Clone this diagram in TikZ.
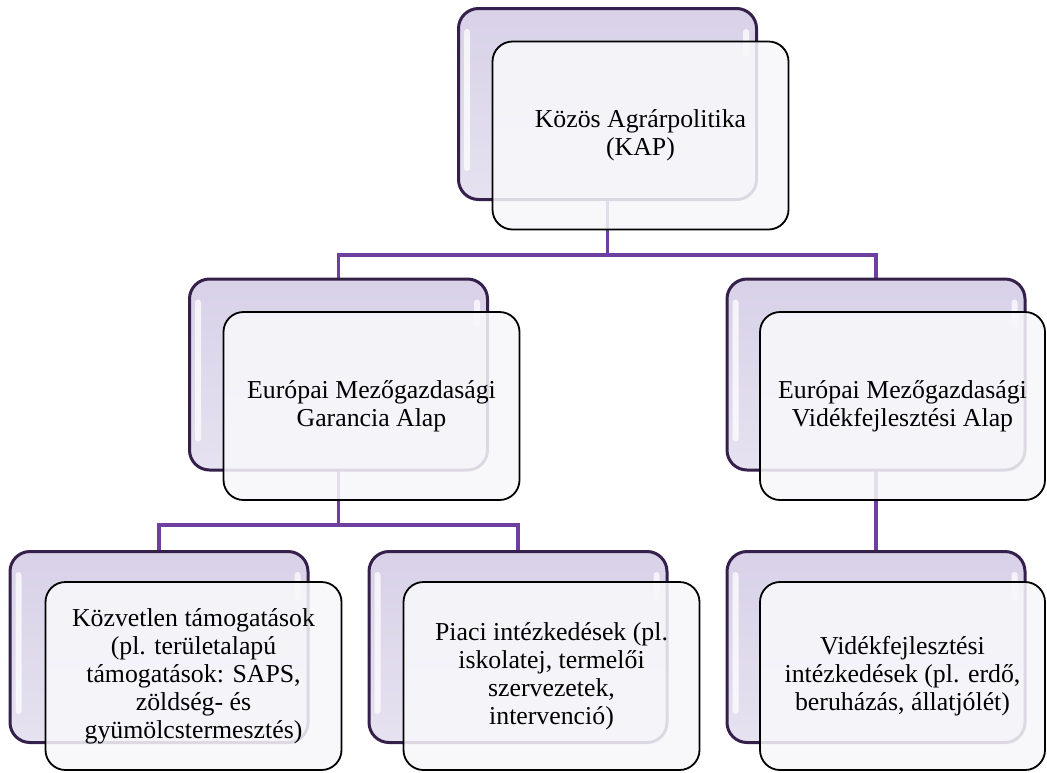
\documentclass[tikz,border=0pt]{standalone}
\usepackage{fontspec}
\setmainfont{Liberation Serif}
\usetikzlibrary{backgrounds,calc}
\definecolor{backfillT}{HTML}{D8D1E8}
\definecolor{backfillB}{HTML}{E6E2F0}
\definecolor{backline}{HTML}{34204A}
\definecolor{conn}{HTML}{6E3F9E}
\definecolor{frontfill}{HTML}{F8F8FB}
\tikzset{
  backbox/.style={rectangle, rounded corners=20pt, draw=backline, line width=3pt,
    top color=backfillT, bottom color=backfillB, minimum width=298pt, minimum height=191pt, inner sep=0pt},
  frontbox/.style={rectangle, rounded corners=20pt, draw=black, line width=1.8pt,
    fill=frontfill, fill opacity=0.86, text opacity=1, minimum width=296pt, minimum height=188pt,
    inner sep=0pt, align=center, font=\fontsize{25.8}{28}\selectfont},
  connector/.style={draw=conn, line width=3.4pt},
  gloss/.style={fill=white, opacity=0.75, rounded corners=3pt}
}
\begin{document}
\begin{tikzpicture}[x=1pt,y=-1pt]
\useasboundingbox (0,0) rectangle (1047,772);
% back boxes
\node[backbox] (kapB) at (607.5,104) {};
\node[backbox] (eagfB) at (338.5,374.5) {};
\node[backbox] (eviaB) at (876,374.5) {};
\node[backbox] (kozB) at (159,647) {};
\node[backbox] (piacB) at (518,647) {};
\node[backbox] (videkB) at (876,647) {};
\foreach \n in {kapB,eagfB,eviaB,kozB,piacB,videkB}{
  \fill[gloss] ([xshift=7pt,yshift=-22pt]\n.north west) rectangle ([xshift=13pt,yshift=30pt]\n.south west);
  \fill[gloss] ([xshift=-15pt,yshift=-22pt]\n.north east) rectangle ([xshift=-9pt,yshift=-50pt]\n.north east);
}
% connectors behind
\coordinate (bus1) at (0,255);
\coordinate (bus2) at (0,525);
\begin{pgfonlayer}{background}
\fill[white] (0,0) rectangle (1047,772);
\draw[connector] (kapB.center) -- (kapB.center |- bus1) -| (eagfB.north);
\draw[connector] (kapB.center |- bus1) -| (eviaB.north);
\draw[connector] (eagfB.center) -- (eagfB.center |- bus2) -| (kozB.north);
\draw[connector] (eagfB.center |- bus2) -| (piacB.north);
\draw[connector] (eviaB.center) -- (videkB.north);
\end{pgfonlayer}
% front boxes
\node[frontbox] (kap) at (640.5,135.5) {Közös Agrárpolitika\\(KAP)};
\node[frontbox] (eagf) at (371.5,406) {Európai Mezőgazdasági\\Garancia Alap};
\node[frontbox, minimum width=285pt] (evia) at (902.5,406) {Európai Mezőgazdasági\\Vidékfejlesztési Alap};
\node[frontbox] (koz) at (193.5,676) {Közvetlen támogatások\\(pl. területalapú\\támogatások: SAPS,\\zöldség- és\\gyümölcstermesztés)};
\node[frontbox] (piac) at (551.5,676) {Piaci intézkedések (pl.\\iskolatej, termelői\\szervezetek,\\intervenció)};
\node[frontbox, minimum width=285pt] (videk) at (902.5,676) {Vidékfejlesztési\\intézkedések (pl. erdő,\\beruházás, állatjólét)};
\end{tikzpicture}
\end{document}
